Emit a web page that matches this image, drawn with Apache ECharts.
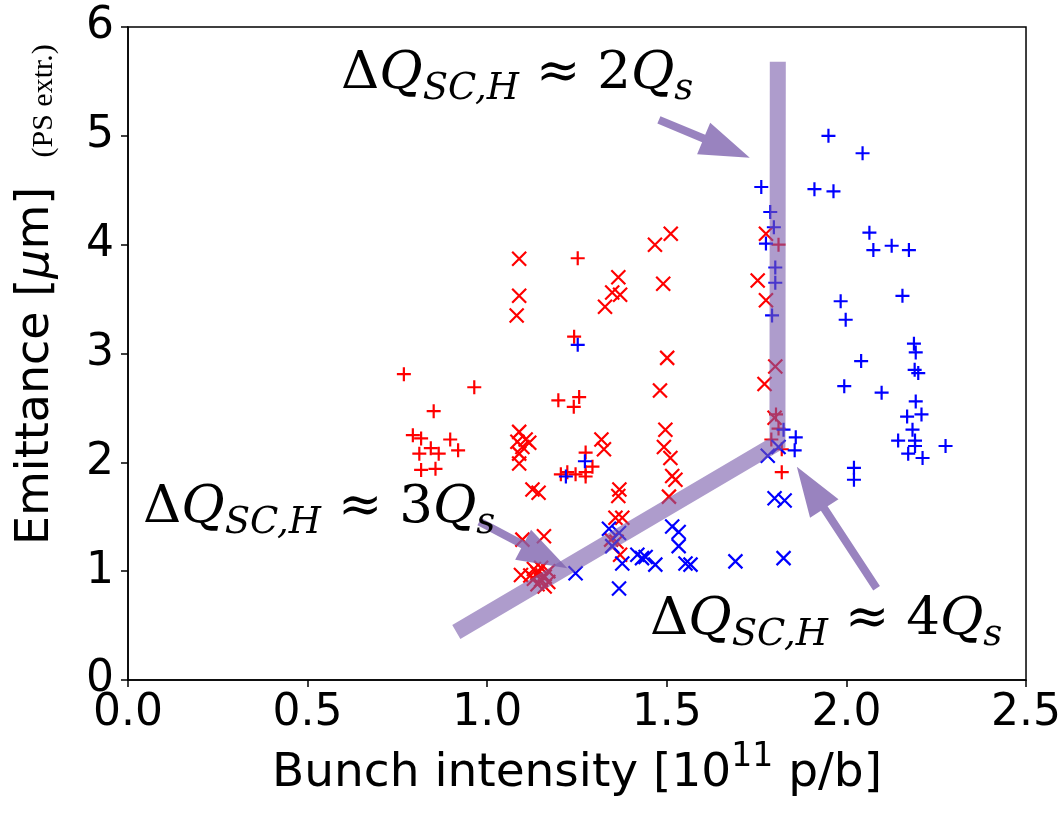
<!DOCTYPE html>
<html>
<head>
<meta charset="utf-8">
<script src="https://cdn.jsdelivr.net/npm/echarts@6/dist/echarts.min.js"></script>
<style>html,body{margin:0;padding:0;background:#fff}#c{width:1064px;height:814px}</style>
</head>
<body>
<div id="c"></div>
<script>
// ---- data (x: bunch intensity [1e11 p/b], y: emittance [um]) ----
const redPlus = [
  [0.768,2.81],[0.851,2.47],[0.964,2.69],[0.793,2.25],[0.816,2.22],[0.843,2.13],
  [0.811,2.08],[0.865,2.08],[0.897,2.21],[0.919,2.11],[0.816,1.93],[0.856,1.94],
  [1.252,3.875],[1.242,3.155],[1.198,2.57],[1.256,2.60],[1.241,2.51],
  [1.205,1.89],[1.223,1.91],[1.246,1.89],[1.274,1.91],[1.293,1.96],[1.274,2.09],[1.274,1.87],
  [1.811,4.00],[1.804,2.44],[1.811,2.31],[1.791,2.21],[1.820,2.12],[1.820,1.91]
];
const redCross = [
  [1.089,3.87],[1.089,3.53],[1.082,3.35],[1.365,3.70],[1.348,3.56],[1.370,3.54],[1.328,3.43],
  [1.467,4.00],[1.511,4.10],[1.490,3.64],[1.501,2.96],[1.481,2.66],
  [1.776,4.10],[1.753,3.67],[1.776,3.49],[1.802,2.88],[1.772,2.72],[1.800,2.41],
  [1.089,2.28],[1.107,2.21],[1.084,2.19],[1.117,2.18],[1.098,2.14],[1.089,2.08],[1.089,1.99],
  [1.126,1.75],[1.143,1.72],[1.318,2.21],[1.325,2.12],
  [1.496,2.30],[1.492,2.14],[1.510,2.04],[1.515,1.875],[1.524,1.84],[1.506,1.685],
  [1.368,1.75],[1.365,1.69],[1.357,1.49],[1.376,1.49],[1.345,1.29],[1.360,1.27],[1.370,1.15],
  [1.098,1.29],[1.158,1.32],[1.094,0.965],
  [1.13,1.02],[1.14,0.98],[1.15,1.03],[1.16,0.95],[1.15,0.92],[1.17,0.90],
  [1.14,0.88],[1.16,0.86],[1.13,0.93],[1.17,1.00],[1.12,0.96]
];
const bluePlus = [
  [1.252,3.08],[1.272,2.01],[1.219,1.87],
  [1.950,5.00],[2.045,4.84],[1.763,4.53],[1.911,4.51],[1.964,4.49],[1.788,4.30],[1.798,4.16],
  [1.776,4.01],[2.064,4.11],[2.075,3.95],[2.126,3.99],[2.174,3.95],[1.802,3.79],[1.802,3.65],
  [1.793,3.35],[1.984,3.48],[1.998,3.31],[2.156,3.53],[2.188,3.09],[2.193,3.01],[2.041,2.93],
  [1.994,2.70],[2.098,2.64],[2.190,2.85],[2.200,2.82],[2.193,2.56],[2.169,2.42],[2.209,2.44],
  [2.184,2.30],[2.144,2.20],[2.191,2.20],[2.191,2.15],[2.172,2.08],[2.212,2.04],[2.276,2.15],
  [2.021,1.95],[2.021,1.84],[1.825,2.30],[1.859,2.23],[1.856,2.11]
];
const blueCross = [
  [1.339,1.39],[1.367,1.35],[1.348,1.23],[1.376,1.07],[1.367,0.84],
  [1.418,1.15],[1.431,1.12],[1.441,1.13],[1.468,1.06],
  [1.515,1.41],[1.533,1.36],[1.533,1.23],[1.552,1.07],[1.566,1.06],
  [1.246,0.98],[1.691,1.09],[1.825,1.12],[1.800,1.67],[1.828,1.65],[1.811,2.14],[1.781,2.06]
];
// guide polyline (threshold boundary)
const guideLine = [[0.914,0.441],[1.808,2.178],[1.809,5.68]];
// arrows: [tailX, tailY, tipX, tipY]
const arrows = [
  [1.478,5.147,1.731,4.798],
  [0.978,1.455,1.223,1.027],
  [2.084,0.843,1.862,1.960]
];
const xTickStep = 0.5, yTickStep = 1;

const plusPath = 'path://M7,0L7,14M0,7L14,7';
const crossPath = 'path://M0,0L14,14M14,0L0,14';
function scatter(data, path, color){
  return {type:'scatter', data, symbol:path, symbolSize:14, silent:true, z:2,
    itemStyle:{color:'transparent', borderColor:color, borderWidth:2.2, opacity:1}};
}
const purpleLine = 'rgba(120,90,170,0.6)';
const purpleArrow = 'rgba(128,100,175,0.8)';

function renderArrow(params, api){
  const a = api.coord([api.value(0), api.value(1)]);
  const b = api.coord([api.value(2), api.value(3)]);
  const dx=b[0]-a[0], dy=b[1]-a[1], L=Math.hypot(dx,dy);
  const ux=dx/L, uy=dy/L, nx=-uy, ny=ux;
  const hl=50, hw=17, sw=4;
  const bx=b[0]-ux*hl, by=b[1]-uy*hl;
  const pts=[[a[0]+nx*sw,a[1]+ny*sw],[bx+nx*sw,by+ny*sw],[bx+nx*hw,by+ny*hw],[b[0],b[1]],
             [bx-nx*hw,by-ny*hw],[bx-nx*sw,by-ny*sw],[a[0]-nx*sw,a[1]-ny*sw]];
  return {type:'polygon', shape:{points:pts}, style:{fill:purpleArrow}};
}

const serif = '"DejaVu Serif", "Liberation Serif", serif';
const mathRich = {
  u:{fontFamily:serif, fontSize:53, lineHeight:60, verticalAlign:'top', color:'#000'},
  i:{fontFamily:serif, fontSize:53, lineHeight:60, verticalAlign:'top', fontStyle:'italic', color:'#000'},
  s:{fontFamily:serif, fontSize:37, lineHeight:32, verticalAlign:'bottom', fontStyle:'italic', color:'#000'}
};
function mathText(n, x, top){
  return {type:'text', left:x, top:top, z:100, silent:true,
    style:{text:'{u|Δ}{i|Q}{s|SC,H}{u| ≈ '+n+'}{i|Q}{s|s}', rich:mathRich}};
}

const chart = echarts.init(document.getElementById('c'), null, {renderer:'canvas'});
chart.setOption({
  animation:false,
  backgroundColor:'#fff',
  grid:{left:128, right:36, top:27, bottom:134, show:true, borderColor:'#000', borderWidth:1.5, backgroundColor:'#fff'},
  xAxis:{type:'value', min:0, max:2.5, interval:xTickStep,
    axisLine:{show:true, lineStyle:{color:'#000', width:1.5}},
    axisTick:{show:true, inside:false, length:7, lineStyle:{color:'#000', width:1.5}},
    axisLabel:{fontFamily:'DejaVu Sans', fontSize:44, color:'#000', margin:12, formatter:v=>v.toFixed(1)},
    splitLine:{show:false},
    name:'{a|Bunch intensity [10}{p|11}{a| p/b]}', nameLocation:'middle', nameGap:58,
    nameTextStyle:{rich:{
      a:{fontFamily:'DejaVu Sans', fontSize:47, lineHeight:56, verticalAlign:'bottom', color:'#000'},
      p:{fontFamily:'DejaVu Sans', fontSize:33, lineHeight:30, verticalAlign:'top', color:'#000'}}}
  },
  yAxis:{type:'value', min:0, max:6, interval:yTickStep,
    axisLine:{show:true, lineStyle:{color:'#000', width:1.5}},
    axisTick:{show:true, inside:false, length:7, lineStyle:{color:'#000', width:1.5}},
    axisLabel:{fontFamily:'DejaVu Sans', fontSize:44, color:'#000', margin:14},
    splitLine:{show:false}
  },
  graphic:[
    {type:'text', x:59, y:545, rotation:Math.PI/2, z:100, silent:true,
     style:{text:'{a|Emittance [}{m|μ}{a|m]  }{b|(PS extr.)}', align:'left', verticalAlign:'bottom',
       rich:{
         a:{fontFamily:'DejaVu Sans', fontSize:46, lineHeight:50, verticalAlign:'bottom', color:'#000'},
         m:{fontFamily:'DejaVu Sans', fontSize:46, lineHeight:50, verticalAlign:'bottom', fontStyle:'italic', color:'#000'},
         b:{fontFamily:'"Liberation Serif", serif', fontSize:30, lineHeight:34, verticalAlign:'bottom', color:'#000'}
       }}},
    mathText('2', 341, 48),
    mathText('3', 143, 482),
    mathText('4', 650, 594)
  ],
  series:[
    scatter(redPlus, plusPath, '#ff0000'),
    scatter(redCross, crossPath, '#ff0000'),
    scatter(bluePlus, plusPath, '#0000ff'),
    scatter(blueCross, crossPath, '#0000ff'),
    {type:'line', data:guideLine, symbol:'none', silent:true, z:5,
     lineStyle:{color:purpleLine, width:16, cap:'butt', join:'miter'}},
    {type:'custom', data:arrows, renderItem:renderArrow, silent:true, z:6,
     encode:{x:[0,2], y:[1,3]}}
  ]
});
</script>
</body>
</html>
